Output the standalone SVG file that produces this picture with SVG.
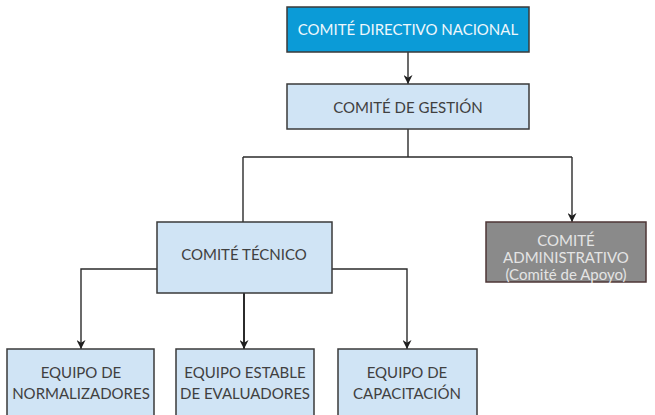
<svg xmlns="http://www.w3.org/2000/svg" width="655" height="415" viewBox="0 0 655 415">
<defs>
<style>
.box{stroke:#3a3a3a;stroke-width:1.5}
.lb{fill:#d0e4f5}
.t{font-family:Lato,"Open Sans",sans-serif;font-size:15px;fill:#404040;text-anchor:middle}
.w{fill:#eef7fc}
.g{fill:#e4e4e4}
.c{fill:none;stroke:#2b2b2b;stroke-width:1.4}
</style>
<marker id="ah" viewBox="0 0 10 10" refX="10" refY="5" markerWidth="9" markerHeight="9" markerUnits="userSpaceOnUse" orient="auto">
<path d="M0,0 L10,5 L0,10 L3,5 Z" fill="#1f1f1f"/>
</marker>
</defs>
<rect width="655" height="415" fill="#fff"/>
<g id="connectors">
<path class="c" d="M408,52 V84" marker-end="url(#ah)"/>
<path class="c" d="M408,129 V157 M243,157 H572 M243,157 V222"/>
<path class="c" d="M572,157 V222" marker-end="url(#ah)"/>
<path class="c" d="M157,269 H81 V349" marker-end="url(#ah)"/>
<path class="c" d="M244,293 V349" marker-end="url(#ah)" style="stroke-width:2"/>
<path class="c" d="M332,269 H407 V349" marker-end="url(#ah)"/>
</g>
<g id="n-directivo">
<rect class="box" x="287" y="7" width="242" height="45" fill="#0b9bd7"/>
<text class="t w" x="408" y="35">COMITÉ DIRECTIVO NACIONAL</text>
</g>
<g id="n-gestion">
<rect class="box lb" x="287" y="84" width="242" height="45"/>
<text class="t" x="408" y="113">COMITÉ DE GESTIÓN</text>
</g>
<g id="n-tecnico">
<rect class="box lb" x="157" y="222" width="175" height="71"/>
<text class="t" x="244" y="260">COMITÉ TÉCNICO</text>
</g>
<g id="n-admin">
<rect x="486" y="222" width="160" height="60" fill="#8a8a8a" stroke="#4d3636" stroke-width="1.5"/>
<text class="t g" x="566" y="246">COMITÉ</text>
<text class="t g" x="566" y="263">ADMINISTRATIVO</text>
<text class="t g" x="566" y="280">(Comité de Apoyo)</text>
</g>
<g id="n-normalizadores">
<rect class="box lb" x="7" y="349" width="147" height="75"/>
<text class="t" x="81" y="378">EQUIPO DE</text>
<text class="t" x="81" y="399">NORMALIZADORES</text>
</g>
<g id="n-evaluadores">
<rect class="box lb" x="176" y="349" width="138" height="75"/>
<text class="t" x="245" y="378">EQUIPO ESTABLE</text>
<text class="t" x="245" y="399">DE EVALUADORES</text>
</g>
<g id="n-capacitacion">
<rect class="box lb" x="338" y="349" width="139" height="75"/>
<text class="t" x="407" y="378">EQUIPO DE</text>
<text class="t" x="407" y="399">CAPACITACIÓN</text>
</g>
</svg>
